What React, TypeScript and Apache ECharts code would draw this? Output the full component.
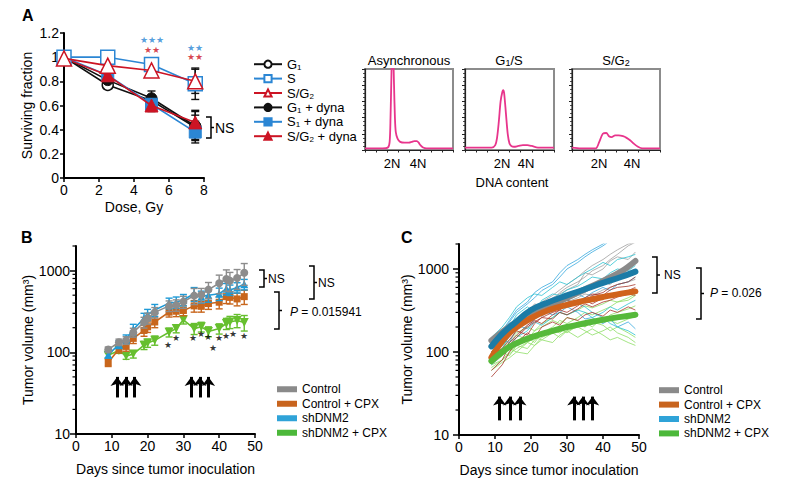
import React, { useEffect, useRef } from "react";
import * as echarts from "echarts";

const FONT = "'Liberation Sans', Arial, Helvetica, sans-serif";

// ---------------- Panel A: surviving fraction ----------------
const doses = [0, 2.5, 5, 7.5];
const aNames = ["G1", "S", "S/G2", "G1 + dyna", "S1 + dyna", "S/G2 + dyna"];
const aG1 = [1.0, 0.77, 0.64, 0.42];
const aS = [1.0, 1.0, 0.94, 0.78];
const aSG2 = [0.99, 0.93, 0.89, 0.8];
const aG1Dyna = [1.0, 0.81, 0.66, 0.43];
const aS1Dyna = [1.0, 0.85, 0.61, 0.38];
const aSG2Dyna = [0.99, 0.85, 0.6, 0.46];
const aG1Err = [0.02, 0.02, 0.04, 0.1];
const aSErr = [0.02, 0.01, 0.02, 0.13];
const aSG2Err = [0.02, 0.02, 0.02, 0.1];
const aG1DynaErr = [0.05, 0.03, 0.06, 0.12];
const aS1DynaErr = [0.03, 0.03, 0.05, 0.09];
const aSG2DynaErr = [0.02, 0.03, 0.05, 0.1];
// significance stars: blue line above red line
const aStarX = [5, 7.5];
const aStarY = [1.1, 1.04];
const aStarBlue = ["★★★", "★★"];
const aStarRed = ["★★", "★★"];

// ---------------- Flow histograms ----------------
const histTitles = ["Asynchronous", "G1/S", "S/G2"];
const h1X = [0, 10, 20, 26, 28, 29, 30, 31, 32, 33, 34, 35, 37, 40, 45, 50, 53, 56, 59, 61, 63, 66, 70, 80, 100];
const h1Y = [2, 2, 2, 3, 10, 40, 90, 130, 120, 80, 40, 22, 14, 10, 9, 9, 10, 11, 11, 9, 6, 3, 2, 2, 2];
const h2X = [0, 10, 20, 30, 34, 36, 38, 40, 42, 43, 44, 46, 48, 50, 52, 55, 60, 65, 70, 75, 82, 90, 100];
const h2Y = [3, 3, 3, 3, 6, 15, 35, 60, 72, 74, 70, 45, 20, 8, 5, 4, 5, 6, 6, 5, 3, 3, 3];
const h3X = [0, 10, 20, 27, 31, 35, 39, 42, 45, 49, 53, 58, 62, 66, 70, 75, 80, 90, 100];
const h3Y = [3, 2, 2, 2, 10, 20, 21, 17, 16, 18, 18, 17, 15, 12, 8, 4, 2, 2, 2];

// ---------------- Panel B: tumor volume means ----------------
const groupNames = ["Control", "Control + CPX", "shDNM2", "shDNM2 + CPX"];
const daysB = [9, 12, 14, 16, 19, 20, 22, 26, 28, 30, 33, 35, 37, 40, 42, 43, 45, 47];
const bControl = [108, 133, 140, 175, 233, 261, 308, 370, 378, 415, 494, 505, 585, 700, 790, 750, 810, 940];
const bControlErr = [8, 12, 15, 22, 35, 40, 45, 55, 60, 70, 110, 100, 130, 180, 230, 200, 220, 280];
const bControlCPX = [75, 110, 118, 148, 185, 205, 235, 310, 318, 325, 370, 365, 395, 410, 480, 470, 450, 480];
const bControlCPXErr = [8, 12, 15, 20, 28, 30, 35, 40, 45, 45, 60, 55, 60, 70, 85, 80, 80, 95];
const bShDNM2 = [93, 125, 145, 190, 260, 290, 330, 400, 410, 440, 520, 480, 500, 520, 600, 580, 620, 680];
const bShDNM2Err = [8, 14, 18, 30, 40, 45, 55, 60, 65, 70, 100, 80, 90, 90, 95, 85, 90, 100];
const bShDNM2CPX = [92, 105, 90, 95, 122, 130, 140, 176, 195, 250, 195, 205, 180, 195, 225, 235, 245, 232];
const bShDNM2CPXErr = [6, 8, 8, 10, 14, 15, 18, 22, 22, 28, 30, 28, 25, 28, 35, 40, 45, 50];
const bStarDays = [25.8, 27.8, 32.8, 34.9, 37.0, 38.3, 39.9, 41.9, 43.9, 47.0];
const bStarVals = [124, 149, 149, 168, 152, 112, 148, 160, 168, 160];
const bArrowDays = [11.5, 14, 16.4, 32.2, 34.6, 37];
const bArrowFrom = 28;
const bArrowTo = 50;

// ---------------- Panel C: individual tumors + fits ----------------
const daysC = [9, 12, 14, 16, 19, 21, 23, 26, 28, 30, 33, 35, 37, 40, 42, 44, 47, 49];
const cGray1 = [90, 120, 150, 200, 260, 300, 380, 420, 520, 600, 700, 800, 950, 1100, 1300, 1500, 1900, 2100];
const cGray2 = [120, 160, 190, 240, 300, 380, 350, 450, 500, 560, 650, 900, 850, 1000, 1250, 1400, 1300, 1600];
const cGray3 = [70, 90, 130, 150, 210, 250, 280, 330, 380, 420, 480, 520, 600, 700, 650, 800, 900, 1000];
const cGray4 = [100, 130, 170, 190, 230, 260, 320, 300, 360, 400, 450, 500, 480, 560, 600, 650, 700, 750];
const cGray5 = [110, 150, 180, 230, 290, 330, 400, 480, 560, 650, 800, 950, 1100, 1300, 1500, 1700, 2000, 2100];
const cBlue1 = [130, 180, 240, 320, 400, 520, 600, 700, 900, 1100, 1300, 1500, 1700, 2000, 2300, 2500, 2600, 2700];
const cBlue2 = [100, 150, 200, 280, 350, 300, 420, 500, 480, 560, 620, 700, 800, 760, 900, 1000, 950, 1100];
const cBlue3 = [80, 110, 160, 220, 260, 330, 400, 380, 450, 420, 380, 350, 300, 260, 220, 200, 180, 160];
const cBlue4 = [110, 140, 130, 190, 250, 300, 270, 340, 400, 460, 500, 450, 520, 600, 550, 650, 700, 800];
const cBlue5 = [90, 120, 170, 210, 190, 250, 320, 280, 300, 350, 300, 250, 260, 220, 250, 200, 230, 190];
const cBlue6 = [150, 200, 260, 350, 450, 500, 480, 600, 700, 650, 800, 900, 1000, 1200, 1100, 1300, 1400, 1500];
const cBlue7 = [120, 170, 230, 300, 380, 450, 550, 650, 800, 1000, 1200, 1400, 1600, 1900, 2200, 2400, 2600, 2800];
const cBlue8 = [70, 95, 120, 150, 180, 230, 210, 260, 300, 280, 320, 300, 260, 300, 350, 320, 380, 420];
const cRed1 = [60, 80, 120, 150, 200, 230, 260, 300, 320, 380, 420, 400, 480, 520, 600, 650, 700, 800];
const cRed2 = [90, 110, 140, 180, 160, 220, 260, 250, 300, 280, 330, 380, 350, 400, 420, 460, 500, 480];
const cRed3 = [50, 70, 100, 130, 170, 150, 200, 230, 210, 260, 240, 280, 300, 270, 320, 300, 350, 320];
const cRed4 = [100, 130, 170, 200, 250, 300, 280, 340, 400, 420, 380, 450, 500, 480, 560, 600, 620, 650];
const cRed5 = [80, 100, 130, 160, 210, 240, 220, 280, 320, 300, 360, 420, 380, 450, 500, 480, 550, 600];
const cGreen1 = [70, 80, 100, 120, 110, 140, 160, 180, 170, 200, 220, 200, 250, 230, 280, 300, 330, 360];
const cGreen2 = [80, 100, 90, 120, 150, 130, 170, 200, 240, 220, 260, 300, 280, 320, 350, 400, 420, 480];
const cGreen3 = [60, 75, 85, 100, 95, 120, 140, 130, 160, 180, 150, 170, 190, 160, 140, 150, 130, 120];
const cGreen4 = [90, 110, 130, 160, 140, 180, 200, 240, 220, 260, 240, 200, 230, 210, 180, 200, 170, 150];
const cGreen5 = [75, 90, 110, 100, 130, 150, 140, 170, 190, 170, 210, 230, 200, 260, 240, 220, 250, 270];
const cGreen6 = [65, 80, 95, 110, 130, 120, 150, 170, 150, 180, 200, 180, 160, 180, 200, 170, 150, 130];
const cGreen7 = [100, 120, 140, 170, 200, 180, 220, 260, 300, 280, 320, 360, 340, 380, 420, 400, 450, 500];
const fitDays = [9, 12, 15, 20, 25, 30, 35, 40, 45, 49];
const fitControl = [137, 175, 215, 285, 360, 450, 570, 720, 930, 1250];
const fitShDNM2 = [117, 165, 215, 320, 400, 480, 570, 680, 800, 930];
const fitControlCPX = [86, 135, 185, 255, 320, 370, 415, 460, 505, 537];
const fitShDNM2CPX = [78, 100, 122, 150, 175, 200, 222, 245, 265, 281];
const cArrowDays = [11.3, 14.1, 16.9, 31.9, 34.4, 37.1];
const cArrowFrom = 15;
const cArrowTo = 29;

// log minor tick values
const minorLogTicks = [20, 30, 40, 50, 60, 70, 80, 90, 200, 300, 400, 500, 600, 700, 800, 900, 2000];

const A_BLACK = "#111111";
const A_BLUE = "#2b86d4";
const A_RED = "#cc1424";
const PINK = "#e8358c";
const B_COLORS = ["#8c8c8c", "#c8661c", "#1f9ad6", "#66bf2e"];
const C_FIT_COLORS = ["#8a8a8a", "#d0631c", "#1b7ba6", "#56b93a"];
const LEG_COLORS = ["#8a8a8a", "#c8641e", "#2fa3d8", "#4cb83a"];
const T_GRAY = "#a0a0a0";
const T_RED = "#a8362c";
const T_BLUE = "#39a9de";
const T_CYAN = "#2cc3d2";
const T_GREEN = "#8ede66";

function pairs(xs: number[], ys: number[]) {
  return xs.map((x, i) => [x, ys[i]]);
}

function errorSeries(idx: number, xs: number[], ys: number[], es: number[], color: string, cap: number, z: number) {
  return {
    type: "custom",
    xAxisIndex: idx,
    yAxisIndex: idx,
    silent: true,
    z,
    encode: { x: 0, y: 1 },
    data: xs.map((x, i) => [x, ys[i], es[i]]),
    renderItem: (_p: any, api: any) => {
      const x = api.value(0);
      const y = api.value(1);
      const e = api.value(2);
      const a = api.coord([x, y + e]);
      const b = api.coord([x, y - e]);
      const st = { stroke: color, lineWidth: 1.4 };
      return {
        type: "group",
        children: [
          { type: "line", shape: { x1: a[0], y1: a[1], x2: b[0], y2: b[1] }, style: st },
          { type: "line", shape: { x1: a[0] - cap, y1: a[1], x2: a[0] + cap, y2: a[1] }, style: st },
          { type: "line", shape: { x1: b[0] - cap, y1: b[1], x2: b[0] + cap, y2: b[1] }, style: st },
        ],
      };
    },
  };
}

function minorTickSeries(idx: number) {
  return {
    type: "custom",
    xAxisIndex: idx,
    yAxisIndex: idx,
    silent: true,
    clip: false,
    encode: { x: 0, y: 1 },
    data: minorLogTicks.map((v) => [0, v]),
    renderItem: (_p: any, api: any) => {
      const c = api.coord([0, api.value(1)]);
      return {
        type: "line",
        shape: { x1: c[0] - 3.5, y1: c[1], x2: c[0], y2: c[1] },
        style: { stroke: "#000", lineWidth: 1.2 },
      };
    },
  };
}

const axisLineMain = { show: true, onZero: false, lineStyle: { color: "#000", width: 2 } };
const tickMain = { show: true, length: 4, lineStyle: { color: "#000", width: 1.5 } };
const labelMain = { fontSize: 14, color: "#000", fontFamily: FONT };
const nameStyle = { fontSize: 14, color: "#000", fontFamily: FONT };

function logLabel(v: number) {
  const r = Math.round(v);
  return r === 10 || r === 100 || r === 1000 ? String(r) : "";
}

function thin(idx: number, vals: number[], color: string) {
  return {
    type: "line",
    xAxisIndex: idx,
    yAxisIndex: idx,
    silent: true,
    showSymbol: false,
    symbol: "none",
    data: pairs(daysC, vals),
    lineStyle: { color, width: 0.8 },
    z: 2,
  };
}

function bracket(x0: number, y0: number, y1: number) {
  const w = 5;
  const ym = (y0 + y1) / 2;
  return [
    {
      type: "polyline",
      silent: true,
      shape: { points: [[x0, y0], [x0 + w, y0], [x0 + w, y1], [x0, y1]] },
      style: { stroke: "#000", lineWidth: 1.5, fill: null },
    },
    {
      type: "line",
      silent: true,
      shape: { x1: x0 + w, y1: ym, x2: x0 + w + 3, y2: ym },
      style: { stroke: "#000", lineWidth: 1.5 },
    },
  ];
}

function txt(x: number, y: number, text: string, opts: any = {}) {
  const align = opts.align || "left";
  const va = opts.va || "middle";
  return {
    type: "text",
    silent: true,
    x,
    y,
    style: {
      text,
      fill: opts.color || "#000",
      fontSize: opts.size || 12,
      fontWeight: opts.weight || "normal",
      fontFamily: FONT,
      align,
      verticalAlign: va,
      textAlign: align,
      textVerticalAlign: va,
      rich: opts.rich,
    },
  };
}

const subRich = (size: number) => ({
  n: { fontSize: size, fontFamily: FONT, color: "#000", lineHeight: size + 2 },
  s: { fontSize: size - 4, fontFamily: FONT, color: "#000", lineHeight: size - 4, verticalAlign: "bottom" },
  i: { fontSize: size, fontFamily: FONT, color: "#000", fontStyle: "italic", lineHeight: size + 2 },
});

const aLegendRich: Record<string, string> = {
  G1: "{k|G}{ks|1}",
  S: "{k|S}",
  "S/G2": "{k|S/G}{ks|2}",
  "G1 + dyna": "{k|G}{ks|1}{k| + dyna}",
  "S1 + dyna": "{k|S}{ks|1}{k| + dyna}",
  "S/G2 + dyna": "{k|S/G}{ks|2}{k| + dyna}",
};

export default function App() {
  const ref = useRef<HTMLDivElement>(null);
  useEffect(() => {
    if (!ref.current) return;
    const chart = echarts.init(ref.current, undefined, { renderer: "svg" });

    const hLefts = [365, 465, 572];
    const hWidths = [88, 89, 88];
    const hData = [pairs(h1X, h1Y), pairs(h2X, h2Y), pairs(h3X, h3Y)];

    const grids: any[] = [
      { left: 64, top: 33, width: 140, height: 145 },
      ...hLefts.map((l, i) => ({
        left: l,
        top: 69,
        width: hWidths[i],
        height: 81,
        show: true,
        borderColor: "#8c8c8c",
        borderWidth: 2,
        backgroundColor: "transparent",
      })),
      { left: 76, top: 246, width: 179, height: 188 },
      { left: 459, top: 244, width: 180, height: 191 },
    ];

    const xAxes: any[] = [
      {
        gridIndex: 0, type: "value", min: 0, max: 8, interval: 2,
        axisLine: axisLineMain, axisTick: tickMain, axisLabel: { ...labelMain, margin: 5 },
        splitLine: { show: false },
        name: "Dose, Gy", nameLocation: "middle", nameGap: 22, nameTextStyle: nameStyle,
      },
      ...[1, 2, 3].map((g) => ({
        gridIndex: g, type: "value", min: 0, max: 100, interval: 12.5,
        axisLine: { show: true, onZero: false, lineStyle: { color: "#222", width: 1.2 } },
        axisTick: { show: true, length: 2.5, lineStyle: { color: "#222", width: 1 } },
        axisLabel: { show: false }, splitLine: { show: false },
      })),
      {
        gridIndex: 4, type: "value", min: 0, max: 50, interval: 10,
        axisLine: axisLineMain, axisTick: tickMain, axisLabel: { ...labelMain, margin: 5 },
        splitLine: { show: false },
        name: "Days since tumor inoculation", nameLocation: "middle", nameGap: 28, nameTextStyle: nameStyle,
      },
      {
        gridIndex: 5, type: "value", min: 0, max: 50, interval: 10,
        axisLine: axisLineMain, axisTick: tickMain, axisLabel: { ...labelMain, margin: 5 },
        splitLine: { show: false },
        name: "Days since tumor inoculation", nameLocation: "middle", nameGap: 28, nameTextStyle: nameStyle,
      },
    ];

    const yAxes: any[] = [
      {
        gridIndex: 0, type: "value", min: 0, max: 1.2, interval: 0.2,
        axisLine: axisLineMain, axisTick: tickMain, axisLabel: { ...labelMain, margin: 5 },
        splitLine: { show: false },
        name: "Surviving fraction", nameLocation: "middle", nameGap: 30, nameTextStyle: nameStyle,
      },
      ...[1, 2, 3].map((g) => ({
        gridIndex: g, type: "value", min: 0, max: 100, interval: 20,
        axisLine: { show: true, onZero: false, lineStyle: { color: "#222", width: 1.2 } },
        axisTick: { show: true, length: 3, lineStyle: { color: "#222", width: 1 } },
        minorTick: { show: true, splitNumber: 4, length: 2, lineStyle: { color: "#222", width: 0.8 } },
        axisLabel: { show: false }, splitLine: { show: false },
      })),
      {
        gridIndex: 4, type: "log", logBase: 10, min: 10, max: 2000,
        axisLine: axisLineMain, axisTick: { ...tickMain, length: 6 },
        axisLabel: { ...labelMain, margin: 6, formatter: logLabel, showMaxLabel: false },
        splitLine: { show: false },
        name: "Tumor volume (mm³)", nameLocation: "middle", nameGap: 41, nameTextStyle: nameStyle,
      },
      {
        gridIndex: 5, type: "log", logBase: 10, min: 10, max: 2000,
        axisLine: axisLineMain, axisTick: { ...tickMain, length: 6 },
        axisLabel: { ...labelMain, margin: 10, formatter: logLabel, showMaxLabel: false },
        splitLine: { show: false },
        name: "Tumor volume (mm³)", nameLocation: "middle", nameGap: 43, nameTextStyle: nameStyle,
      },
    ];

    // ---- Panel A series
    const aLine = (name: string, ys: number[], color: string, symbol: string, size: number, open: boolean, z: number) => ({
      name,
      type: "line",
      xAxisIndex: 0,
      yAxisIndex: 0,
      data: pairs(doses, ys),
      symbol,
      symbolSize: size,
      showAllSymbol: true,
      lineStyle: { color, width: 1.6 },
      itemStyle: open
        ? { color: "#ffffff", borderColor: color, borderWidth: 1.5 }
        : { color, borderColor: color, borderWidth: 1 },
      z,
    });
    const aSeries: any[] = [
      errorSeries(0, doses, aG1, aG1Err, A_BLACK, 4, 1),
      errorSeries(0, doses, aG1Dyna, aG1DynaErr, A_BLACK, 4, 1),
      errorSeries(0, doses, aS1Dyna, aS1DynaErr, A_BLACK, 4, 1),
      errorSeries(0, doses, aSG2Dyna, aSG2DynaErr, A_BLACK, 4, 1),
      errorSeries(0, doses, aS, aSErr, A_BLACK, 4, 1),
      errorSeries(0, doses, aSG2, aSG2Err, A_BLACK, 4, 1),
      aLine("G1", aG1, A_BLACK, "circle", 11, true, 3),
      aLine("G1 + dyna", aG1Dyna, A_BLACK, "circle", 11, false, 4),
      aLine("S1 + dyna", aS1Dyna, A_BLUE, "rect", 12, false, 5),
      aLine("S/G2 + dyna", aSG2Dyna, A_RED, "triangle", 13, false, 6),
      aLine("S", aS, A_BLUE, "rect", 14, true, 7),
      aLine("S/G2", aSG2, A_RED, "triangle", 15, true, 8),
      {
        type: "scatter",
        xAxisIndex: 0,
        yAxisIndex: 0,
        silent: true,
        symbolSize: 1,
        itemStyle: { color: "rgba(0,0,0,0)" },
        z: 9,
        label: {
          show: true,
          position: "inside",
          formatter: (p: any) => "{b|" + aStarBlue[p.dataIndex] + "}\n{r|" + aStarRed[p.dataIndex] + "}",
          rich: {
            b: { fontSize: 9, color: A_BLUE, lineHeight: 9.5, align: "center" },
            r: { fontSize: 9, color: A_RED, lineHeight: 9.5, align: "center" },
          },
        },
        data: pairs(aStarX, aStarY),
      },
    ];

    // ---- Histograms
    const hSeries: any[] = hData.map((d, i) => ({
      type: "line",
      xAxisIndex: i + 1,
      yAxisIndex: i + 1,
      data: d,
      silent: true,
      symbol: "none",
      smooth: 0.3,
      lineStyle: { color: PINK, width: 1.8 },
    }));

    // ---- Panel B
    const bMeans = [bControl, bControlCPX, bShDNM2, bShDNM2CPX];
    const bErrs = [bControlErr, bControlCPXErr, bShDNM2Err, bShDNM2CPXErr];
    const bSymbols = ["circle", "rect", "triangle", "triangle"];
    const bRot = [0, 0, 0, 180];
    const bSizes = [8, 7, 8, 9];
    const bOrder = [3, 1, 2, 0];
    const bSeries: any[] = [];
    bOrder.forEach((g, k) => {
      bSeries.push(errorSeries(4, daysB, bMeans[g], bErrs[g], B_COLORS[g], 3.5, 2 + k * 2));
      bSeries.push({
        name: groupNames[g] + " (mean)",
        type: "line",
        xAxisIndex: 4,
        yAxisIndex: 4,
        data: pairs(daysB, bMeans[g]),
        symbol: bSymbols[g],
        symbolRotate: bRot[g],
        symbolSize: bSizes[g],
        showAllSymbol: true,
        lineStyle: { color: B_COLORS[g], width: 1.6 },
        itemStyle: { color: B_COLORS[g] },
        z: 3 + k * 2,
        markLine:
          k === 0
            ? {
                silent: true,
                symbol: ["none", "arrow"],
                symbolSize: [10, 9],
                label: { show: false },
                lineStyle: { color: "#000", width: 3, type: "solid" },
                data: bArrowDays.map((d) => [{ coord: [d, bArrowFrom] }, { coord: [d, bArrowTo] }]),
              }
            : undefined,
      });
    });
    bSeries.push({
      type: "scatter",
      xAxisIndex: 4,
      yAxisIndex: 4,
      silent: true,
      symbolSize: 1,
      itemStyle: { color: "rgba(0,0,0,0)" },
      label: { show: true, position: "inside", formatter: "★", fontSize: 9, lineHeight: 8, color: "#000" },
      data: pairs(bStarDays, bStarVals),
      z: 12,
    });
    bSeries.push(minorTickSeries(4));

    // ---- Panel C
    const cSeries: any[] = [
      thin(5, cGray1, T_GRAY),
      thin(5, cGray2, T_GRAY),
      thin(5, cGray3, T_GRAY),
      thin(5, cGray4, T_GRAY),
      thin(5, cGray5, T_GRAY),
      thin(5, cGreen1, T_GREEN),
      thin(5, cGreen2, T_GREEN),
      thin(5, cGreen3, T_GREEN),
      thin(5, cGreen4, T_GREEN),
      thin(5, cGreen5, T_GREEN),
      thin(5, cGreen6, T_GREEN),
      thin(5, cGreen7, T_GREEN),
      thin(5, cBlue1, T_BLUE),
      thin(5, cBlue2, T_CYAN),
      thin(5, cBlue3, T_CYAN),
      thin(5, cBlue4, T_BLUE),
      thin(5, cBlue5, T_BLUE),
      thin(5, cBlue6, T_CYAN),
      thin(5, cBlue7, T_BLUE),
      thin(5, cBlue8, T_CYAN),
      thin(5, cRed1, T_RED),
      thin(5, cRed2, T_RED),
      thin(5, cRed3, T_RED),
      thin(5, cRed4, T_RED),
      thin(5, cRed5, T_RED),
    ];
    const fits = [fitControl, fitControlCPX, fitShDNM2, fitShDNM2CPX];
    fits.forEach((f, g) => {
      cSeries.push({
        name: groupNames[g],
        type: "line",
        xAxisIndex: 5,
        yAxisIndex: 5,
        data: pairs(fitDays, f),
        symbol: "none",
        smooth: 0.4,
        silent: true,
        lineStyle: { color: C_FIT_COLORS[g], width: 6, cap: "round" },
        itemStyle: { color: C_FIT_COLORS[g] },
        z: 5 + g,
        markLine:
          g === 0
            ? {
                silent: true,
                symbol: ["none", "arrow"],
                symbolSize: [10, 9],
                label: { show: false },
                lineStyle: { color: "#000", width: 3, type: "solid" },
                data: cArrowDays.map((d) => [{ coord: [d, cArrowFrom] }, { coord: [d, cArrowTo] }]),
              }
            : undefined,
      });
    });
    cSeries.push(minorTickSeries(5));

    const legendText = { fontSize: 12, color: "#000", fontFamily: FONT, lineHeight: 14.5 };
    const richA = {
      k: { fontSize: 13, color: "#000", fontFamily: FONT, lineHeight: 14.4 },
      ks: { fontSize: 8, color: "#000", fontFamily: FONT, lineHeight: 8, verticalAlign: "bottom" },
    };

    const legends: any[] = [
      {
        left: 248,
        top: 52,
        orient: "vertical",
        itemWidth: 28,
        itemHeight: 9,
        itemGap: 0,
        selectedMode: false,
        data: aNames,
        formatter: (n: string) => aLegendRich[n] || n,
        textStyle: { ...legendText, fontSize: 13, lineHeight: 14.4, rich: richA },
      },
      {
        left: 272,
        top: 377,
        orient: "vertical",
        itemWidth: 20,
        itemHeight: 6,
        itemGap: 0,
        icon: "rect",
        selectedMode: false,
        textStyle: legendText,
        data: groupNames.map((n, i) => ({ name: n, icon: "rect", itemStyle: { color: LEG_COLORS[i], borderWidth: 0 } })),
      },
      {
        left: 654,
        top: 378,
        orient: "vertical",
        itemWidth: 20,
        itemHeight: 6,
        itemGap: 0,
        icon: "rect",
        selectedMode: false,
        textStyle: { ...legendText, lineHeight: 14.4 },
        data: groupNames.map((n, i) => ({ name: n, icon: "rect", itemStyle: { color: LEG_COLORS[i], borderWidth: 0 } })),
      },
    ];

    const r13 = subRich(13);
    const r12 = subRich(12);
    const graphics: any[] = [
      txt(22, 15, "A", { size: 16, weight: "bold" }),
      txt(21, 237, "B", { size: 16, weight: "bold" }),
      txt(401, 237, "C", { size: 16, weight: "bold" }),
      txt(409, 60, "{n|" + histTitles[0] + "}", { align: "center", size: 13, rich: r13 }),
      txt(509, 60, "{n|G}{s|1}{n|/S}", { align: "center", size: 13, rich: r13 }),
      txt(616, 60, "{n|S/G}{s|2}", { align: "center", size: 13, rich: r13 }),
      txt(392, 163, "2N", { align: "center", size: 13 }),
      txt(418, 163, "4N", { align: "center", size: 13 }),
      txt(502, 163, "2N", { align: "center", size: 13 }),
      txt(526, 163, "4N", { align: "center", size: 13 }),
      txt(599, 163, "2N", { align: "center", size: 13 }),
      txt(632, 163, "4N", { align: "center", size: 13 }),
      txt(512, 182, "DNA content", { align: "center", size: 13 }),
      ...bracket(206, 117, 138),
      txt(215, 128, "NS", { size: 14 }),
      ...bracket(259, 270, 287),
      txt(268, 278.5, "NS", { size: 12 }),
      ...bracket(309, 266, 299),
      txt(318, 283, "NS", { size: 12 }),
      ...bracket(274, 292, 329),
      txt(290, 312, "{i|P}{n| = 0.015941}", { size: 12, rich: r12 }),
      ...bracket(652, 257, 293),
      txt(664, 275, "NS", { size: 12 }),
      ...bracket(696, 268, 319),
      txt(710, 293, "{i|P}{n| = 0.026}", { size: 12, rich: r12 }),
    ];

    chart.setOption({
      animation: false,
      backgroundColor: "#ffffff",
      textStyle: { fontFamily: FONT },
      grid: grids,
      xAxis: xAxes,
      yAxis: yAxes,
      legend: legends,
      series: [...aSeries, ...hSeries, ...bSeries, ...cSeries],
      graphic: graphics,
    });
    return () => chart.dispose();
  }, []);

  return (
    <div
      ref={ref}
      style={{ position: "absolute", left: 0, top: 0, width: 787, height: 485, background: "#fff" }}
    />
  );
}
